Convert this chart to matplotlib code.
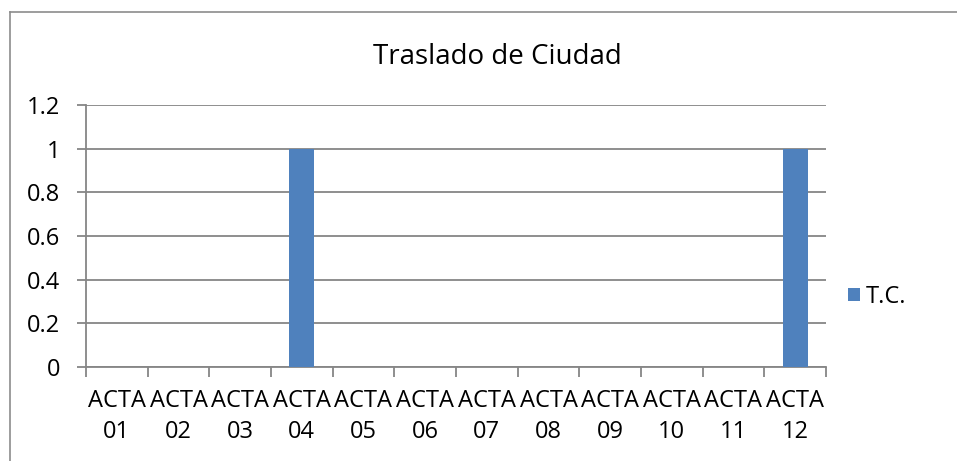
import matplotlib
matplotlib.use("Agg")
import matplotlib.pyplot as plt
from matplotlib.lines import Line2D

categories = ["ACTA\n01", "ACTA\n02", "ACTA\n03", "ACTA\n04", "ACTA\n05", "ACTA\n06",
              "ACTA\n07", "ACTA\n08", "ACTA\n09", "ACTA\n10", "ACTA\n11", "ACTA\n12"]
values = [0, 0, 0, 1, 0, 0, 0, 0, 0, 0, 0, 1]
series_name = "T.C."
title = "Traslado de Ciudad"
yticks = [0, 0.2, 0.4, 0.6, 0.8, 1, 1.2]
yticklabels = ["0", "0.2", "0.4", "0.6", "0.8", "1", "1.2"]

plt.rcParams['font.family'] = ['Open Sans', 'DejaVu Sans']

W, H = 957, 461
fig = plt.figure(figsize=(W / 100, H / 100), dpi=100)
fig.patch.set_facecolor("white")

# outer chart border (left and top visible)
fig.add_artist(Line2D([9.5 / W, 9.5 / W], [0, 1 - 12.5 / H], transform=fig.transFigure,
                      color="#8c8c8c", lw=1.2))
fig.add_artist(Line2D([9.5 / W, 1], [1 - 12.5 / H, 1 - 12.5 / H], transform=fig.transFigure,
                      color="#8c8c8c", lw=1.2))

left, right = 86 / W, 826 / W
bottom, top = (H - 367) / H, (H - 105) / H
ax = fig.add_axes([left, bottom, right - left, top - bottom])

x = list(range(len(categories)))
ax.bar(x, values, width=0.4, color="#4F81BD", zorder=3, label=series_name)

ax.set_xlim(-0.5, len(categories) - 0.5)
ax.set_ylim(0, 1.2)
ax.set_yticks(yticks)
ax.set_yticklabels(yticklabels, fontsize=17)
ax.yaxis.grid(True, color="#868686", lw=1.3, zorder=0)
ax.set_axisbelow(True)

ax.set_xticks([i - 0.5 for i in range(len(categories) + 1)], minor=False)
ax.set_xticklabels([""] * (len(categories) + 1))
ax.set_xticks(x, minor=True)
ax.set_xticklabels(categories, minor=True, fontsize=17, linespacing=1.35)
ax.tick_params(axis="x", which="major", length=7, width=1.3, color="#868686", direction="out")
ax.tick_params(axis="x", which="minor", length=0, pad=16)
ax.tick_params(axis="y", length=6.5, width=1.3, color="#868686", direction="out", pad=12)

for s in ["top", "right"]:
    ax.spines[s].set_visible(False)
ax.spines["left"].set_color("#868686")
ax.spines["left"].set_linewidth(1.3)
ax.spines["bottom"].set_color("#868686")
ax.spines["bottom"].set_linewidth(1.3)

fig.text(497 / W, 1 - 57 / H, title, ha="center", va="center", fontsize=20)

leg = ax.legend(loc="center left", frameon=False, fontsize=17,
                handlelength=0.5, handleheight=0.5, handletextpad=0.25,
                borderaxespad=0, borderpad=0)
leg.set_bbox_to_anchor((848 / W, 1 - 297 / H), transform=fig.transFigure)

fig.savefig("out.png", dpi=100, facecolor="white")
